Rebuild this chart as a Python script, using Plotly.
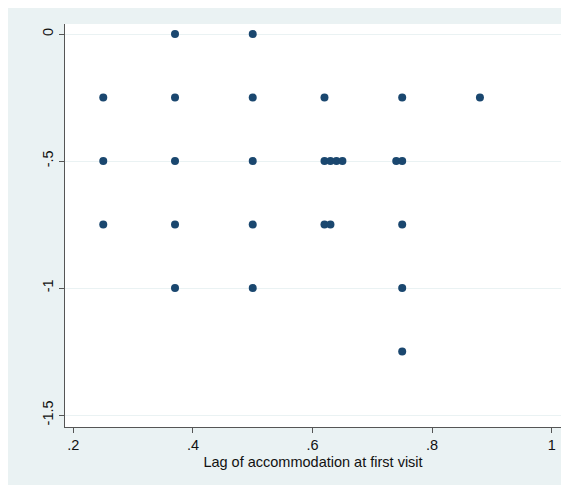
import plotly.graph_objects as go

# Data
lag_x = [0.37, 0.50,
         0.25, 0.37, 0.50, 0.62, 0.75, 0.88,
         0.25, 0.37, 0.50, 0.62, 0.63, 0.64, 0.65, 0.74, 0.75,
         0.25, 0.37, 0.50, 0.62, 0.63, 0.75,
         0.37, 0.50, 0.75,
         0.75]
val_y = [0, 0,
         -0.25, -0.25, -0.25, -0.25, -0.25, -0.25,
         -0.5, -0.5, -0.5, -0.5, -0.5, -0.5, -0.5, -0.5, -0.5,
         -0.75, -0.75, -0.75, -0.75, -0.75, -0.75,
         -1, -1, -1,
         -1.25]

x_tickvals = [0.2, 0.4, 0.6, 0.8, 1.0]
x_ticktext = [".2", ".4", ".6", ".8", "1"]
y_tickvals = [0, -0.5, -1, -1.5]
y_ticktext = ["0", "-.5", "-1", "-1.5"]

BG = "#EAF2F3"
AX = "#555555"
FONT = "Liberation Sans, Arial, sans-serif"

fig = go.Figure()
fig.add_trace(go.Scatter(
    x=lag_x, y=val_y, mode="markers",
    marker=dict(color="#1a476f", size=8, line=dict(width=0)),
    showlegend=False,
))

fig.update_layout(
    width=561, height=477,
    margin=dict(l=57, r=8, t=16, b=58, autoexpand=False),
    paper_bgcolor=BG, plot_bgcolor="white",
    font=dict(family=FONT, size=14.5, color="#111111"),
    xaxis=dict(
        range=[0.186, 1.0156],
        tickvals=x_tickvals, ticktext=x_ticktext,
        showgrid=False, zeroline=False, automargin=False,
        showline=True, linecolor=AX, linewidth=1,
        ticks="outside", ticklen=5, tickcolor=AX, tickwidth=1,
        tickfont=dict(size=14.5),
        title=dict(text="Lag of accommodation at first visit", font=dict(size=14.5), standoff=4),
    ),
    yaxis=dict(
        range=[-1.547, 0.0394],
        tickvals=y_tickvals, ticktext=y_ticktext,
        tickangle=-90,
        showgrid=True, gridcolor=BG, gridwidth=1,
        zeroline=False, automargin=False,
        showline=True, linecolor=AX, linewidth=1,
        ticks="outside", ticklen=5, tickcolor=AX, tickwidth=1,
        tickfont=dict(size=14.5),
    ),
)

fig.write_html("out.html")
